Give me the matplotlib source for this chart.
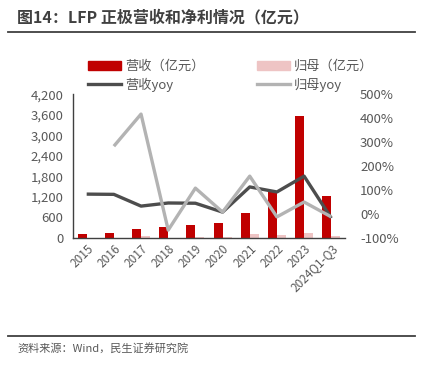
import numpy as np
import matplotlib.pyplot as plt
from matplotlib.lines import Line2D
from matplotlib.patches import Patch
from matplotlib.ticker import FuncFormatter

plt.rcParams['font.family'] = ['Noto Sans CJK SC', 'DejaVu Sans']

years = ["2015", "2016", "2017", "2018", "2019", "2020", "2021", "2022", "2023", "2024Q1-Q3"]
revenue = [115, 145, 260, 320, 380, 440, 730, 1340, 3550, 1220]
net_profit = [5, 10, 50, 10, 40, 15, 110, 90, 150, 50]
revenue_yoy = [83, 82, 33, 46, 45, 8, 113, 92, 158, -17]
profit_yoy = [np.nan, 283, 417, -67, 108, 8, 158, -12, 50, -12]

red = "#C00000"
pink = "#EEC4C4"
dark = "#4D4D4D"
light = "#B3B3B3"
txt = "#595959"

fig = plt.figure(figsize=(4.3, 3.65), dpi=100)
ax = fig.add_axes([0.170, 0.348, 0.632, 0.394])
ax2 = ax.twinx()

x = np.arange(len(years))
w = 0.33
ax.bar(x - w / 2, revenue, w, color=red, zorder=2)
ax.bar(x + w / 2, net_profit, w, color=pink, zorder=2)

ax2.plot(x, revenue_yoy, color=dark, lw=2.4, solid_capstyle="butt")
ax2.plot(x, profit_yoy, color=light, lw=2.4, solid_capstyle="butt")

ax.set_xlim(-0.5, len(years) - 0.5)
ax.set_ylim(0, 4200)
ax.set_yticks(range(0, 4201, 600))
ax.yaxis.set_major_formatter(FuncFormatter(lambda v, p: f"{int(v):,}"))
ax2.set_ylim(-100, 500)
ax2.set_yticks(range(-100, 501, 100))
ax2.yaxis.set_major_formatter(FuncFormatter(lambda v, p: f"{int(v)}%"))

ax.set_xticks(x)
ax.set_xticklabels(years, rotation=45, ha="right", rotation_mode="anchor")

for a in (ax, ax2):
    for s in ("top", "right"):
        a.spines[s].set_visible(False)
    a.tick_params(length=0, labelsize=9.5, colors=txt)
ax2.spines["left"].set_visible(False)
ax2.spines["bottom"].set_visible(False)
ax.spines["left"].set_color("#404040")
ax.spines["bottom"].set_color("#404040")
ax.spines["left"].set_linewidth(1.0)
ax.spines["bottom"].set_linewidth(1.0)
ax.tick_params(axis="x", labelsize=8.5, pad=3)
ax.tick_params(axis="y", pad=7)
ax2.tick_params(axis="y", pad=11)

leg_kw = dict(frameon=False, fontsize=9.5, handlelength=2.5, handletextpad=0.3,
              labelspacing=0.35, labelcolor=txt, borderaxespad=0)
fig.legend([Patch(color=red), Line2D([], [], color=dark, lw=2.4)],
           ["营收（亿元）", "营收yoy"], loc="upper left",
           bbox_to_anchor=(0.193, 0.85), **leg_kw)
fig.legend([Patch(color=pink), Line2D([], [], color=light, lw=2.4)],
           ["归母（亿元）", "归母yoy"], loc="upper left",
           bbox_to_anchor=(0.586, 0.85), **leg_kw)

fig.text(0.04, 0.953, "图14：LFP 正极营收和净利情况（亿元）", fontsize=11.5,
         fontweight="bold", color="#404040", va="center")
fig.add_artist(Line2D([0.019, 0.965], [0.912, 0.912], color="#404040", lw=1.3))
fig.add_artist(Line2D([0.019, 0.965], [0.079, 0.079], color="#404040", lw=1.3))
fig.text(0.04, 0.046, "资料来源：Wind，民生证券研究院", fontsize=8, color=txt, va="center")

fig.savefig("out.png", dpi=100)
